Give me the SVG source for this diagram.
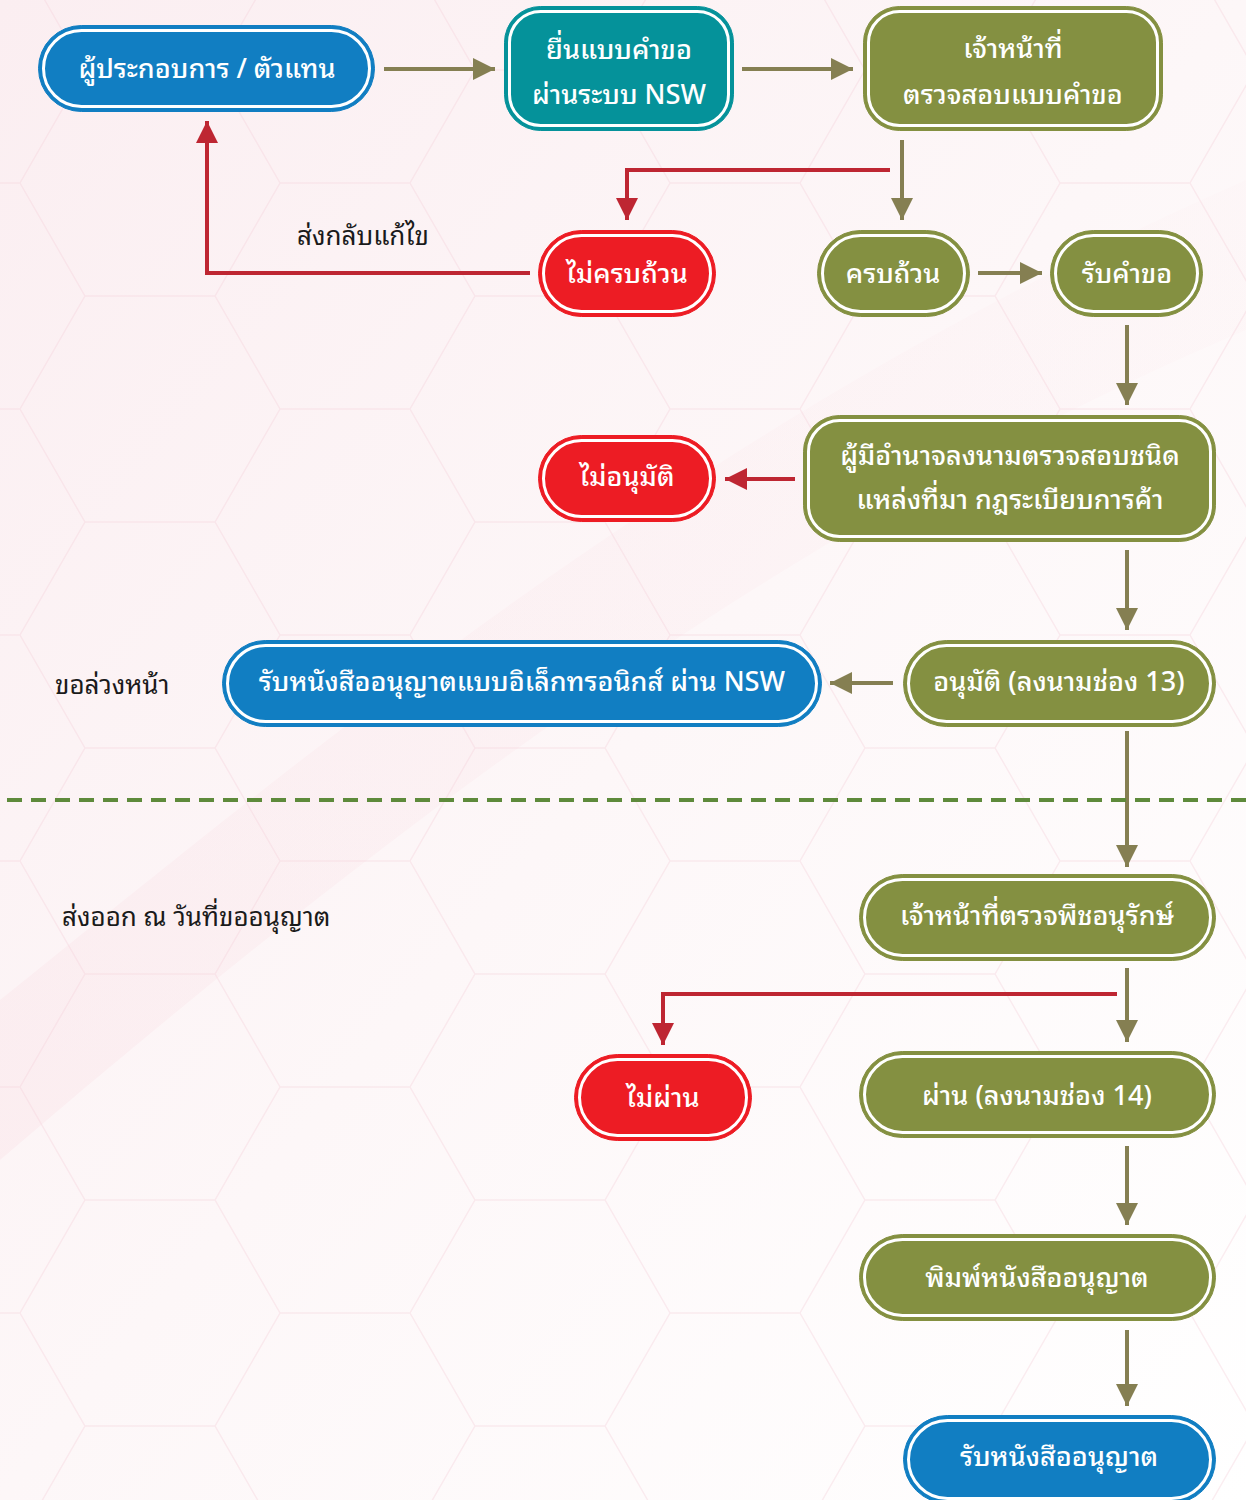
<svg xmlns="http://www.w3.org/2000/svg" width="1246" height="1500" viewBox="0 0 1246 1500">
<defs>
<linearGradient id="bg" x1="0" y1="0" x2="1" y2="1">
<stop offset="0" stop-color="#fbeef1"/>
<stop offset="0.5" stop-color="#fdf7f8"/>
<stop offset="1" stop-color="#ffffff"/>
</linearGradient>
<linearGradient id="swoosh" x1="0" y1="1" x2="1" y2="0">
<stop offset="0" stop-color="#f9dde3" stop-opacity="0.9"/>
<stop offset="1" stop-color="#fbe6ea" stop-opacity="0.3"/>
</linearGradient>
<pattern id="hex" x="20" y="70" width="390" height="226" patternUnits="userSpaceOnUse">
<path d="M0,113 L65,0 L195,0 L260,113 L195,226 L65,226 Z M260,113 L390,113" fill="none" stroke="#f5d3dc" stroke-width="1.5"/>
</pattern>
<marker id="ah-o" viewBox="0 0 10 10" refX="10" refY="5" markerWidth="22" markerHeight="22" markerUnits="userSpaceOnUse" orient="auto">
<path d="M0,0 L10,5 L0,10 Z" fill="#857f52"/>
</marker>
<marker id="ah-r" viewBox="0 0 10 10" refX="10" refY="5" markerWidth="22" markerHeight="22" markerUnits="userSpaceOnUse" orient="auto">
<path d="M0,0 L10,5 L0,10 Z" fill="#be2632"/>
</marker>
<style>
.t{font-family:"Noto Sans Thai Looped","Noto Sans Thai","Noto Sans","DejaVu Sans",sans-serif;font-size:27px;fill:#ffffff;text-anchor:middle;font-weight:500}
.lbl{font-family:"Noto Sans Thai Looped","Noto Sans Thai","Noto Sans","DejaVu Sans",sans-serif;font-size:26px;fill:#1a1a1a}
.ring{fill:none;stroke:#ffffff;stroke-width:3}
.blue{fill:#117ec2;stroke:#117ec2;stroke-width:1}
.teal{fill:#05929a;stroke:#05929a;stroke-width:1}
.olive{fill:#849041;stroke:#849041;stroke-width:1}
.red{fill:#ed1c24;stroke:#ed1c24;stroke-width:1}
.co{fill:none;stroke:#857f52;stroke-width:4}
.cr{fill:none;stroke:#be2632;stroke-width:4}
</style>
</defs>
<rect width="1246" height="1500" fill="url(#bg)"/>
<path d="M0,1000 C300,760 700,420 1246,180 L1246,330 C800,520 420,800 0,1160 Z" fill="url(#swoosh)" opacity="0.35"/>
<rect width="1246" height="1500" fill="url(#hex)" opacity="0.4"/>

<g id="connectors">
<path class="co" d="M384,69 L495,69" marker-end="url(#ah-o)"/>
<path class="co" d="M742,69 L853,69" marker-end="url(#ah-o)"/>
<path class="cr" d="M890,170 L627,170 L627,220" marker-end="url(#ah-r)"/>
<path class="co" d="M902,140 L902,220" marker-end="url(#ah-o)"/>
<path class="cr" d="M530,273 L207,273 L207,121" marker-end="url(#ah-r)"/>
<path class="co" d="M978,273 L1042,273" marker-end="url(#ah-o)"/>
<path class="co" d="M1127,325 L1127,405" marker-end="url(#ah-o)"/>
<path class="cr" d="M795,479 L725,479" marker-end="url(#ah-r)"/>
<path class="co" d="M1127,550 L1127,630" marker-end="url(#ah-o)"/>
<path class="co" d="M893,683 L830,683" marker-end="url(#ah-o)"/>
<path class="co" d="M1127,731 L1127,867" marker-end="url(#ah-o)"/>
<path class="co" d="M1127,968 L1127,1042" marker-end="url(#ah-o)"/>
<path class="cr" d="M1117,994 L663,994 L663,1045" marker-end="url(#ah-r)"/>
<path class="co" d="M1127,1146 L1127,1225" marker-end="url(#ah-o)"/>
<path class="co" d="M1127,1330 L1127,1406" marker-end="url(#ah-o)"/>
</g>

<line id="divider" x1="7" y1="800" x2="1246" y2="800" stroke="#5e8a3b" stroke-width="4" stroke-dasharray="15,9"/>

<text class="lbl" x="297" y="245">ส่งกลับแก้ไข</text>
<text class="lbl" x="55" y="694">ขอล่วงหน้า</text>
<text class="lbl" x="62" y="926">ส่งออก ณ วันที่ขออนุญาต</text>

<g id="n1">
<rect class="blue" x="38.5" y="25.5" width="336" height="86" rx="43"/>
<rect class="ring" x="43.5" y="30.5" width="326" height="76" rx="38"/>
<text class="t" x="207" y="78">ผู้ประกอบการ / ตัวแทน</text>
</g>
<g id="n2">
<rect class="teal" x="504.5" y="6.5" width="229" height="124" rx="36"/>
<rect class="ring" x="509.5" y="11.5" width="219" height="114" rx="31"/>
<text class="t" x="619" y="59">ยื่นแบบคำขอ</text>
<text class="t" x="619" y="104">ผ่านระบบ NSW</text>
</g>
<g id="n3">
<rect class="olive" x="863.5" y="6.5" width="299" height="124" rx="36"/>
<rect class="ring" x="868.5" y="11.5" width="289" height="114" rx="31"/>
<text class="t" x="1013" y="58">เจ้าหน้าที่</text>
<text class="t" x="1013" y="104">ตรวจสอบแบบคำขอ</text>
</g>
<g id="n4">
<rect class="red" x="538.5" y="230.5" width="177" height="86" rx="43"/>
<rect class="ring" x="543.5" y="235.5" width="167" height="76" rx="38"/>
<text class="t" x="627" y="283">ไม่ครบถ้วน</text>
</g>
<g id="n5">
<rect class="olive" x="817.5" y="230.5" width="152" height="86" rx="43"/>
<rect class="ring" x="822.5" y="235.5" width="142" height="76" rx="38"/>
<text class="t" x="893" y="283">ครบถ้วน</text>
</g>
<g id="n6">
<rect class="olive" x="1050.5" y="230.5" width="152" height="86" rx="43"/>
<rect class="ring" x="1055.5" y="235.5" width="142" height="76" rx="38"/>
<text class="t" x="1127" y="283">รับคำขอ</text>
</g>
<g id="n7">
<rect class="olive" x="803.5" y="415.5" width="412" height="126" rx="36"/>
<rect class="ring" x="808.5" y="420.5" width="402" height="116" rx="31"/>
<text class="t" x="1010" y="465">ผู้มีอำนาจลงนามตรวจสอบชนิด</text>
<text class="t" x="1010" y="509">แหล่งที่มา กฎระเบียบการค้า</text>
</g>
<g id="n8">
<rect class="red" x="538.5" y="435.5" width="177" height="86" rx="43"/>
<rect class="ring" x="543.5" y="440.5" width="167" height="76" rx="38"/>
<text class="t" x="627" y="486">ไม่อนุมัติ</text>
</g>
<g id="n9">
<rect class="blue" x="222.5" y="640.5" width="599" height="86" rx="43"/>
<rect class="ring" x="227.5" y="645.5" width="589" height="76" rx="38"/>
<text class="t" x="522" y="691">รับหนังสืออนุญาตแบบอิเล็กทรอนิกส์ ผ่าน NSW</text>
</g>
<g id="n10">
<rect class="olive" x="903.5" y="640.5" width="312" height="86" rx="43"/>
<rect class="ring" x="908.5" y="645.5" width="302" height="76" rx="38"/>
<text class="t" x="1059" y="691">อนุมัติ (ลงนามช่อง 13)</text>
</g>
<g id="n11">
<rect class="olive" x="859.5" y="874.5" width="356" height="86" rx="43"/>
<rect class="ring" x="864.5" y="879.5" width="346" height="76" rx="38"/>
<text class="t" x="1037" y="925">เจ้าหน้าที่ตรวจพืชอนุรักษ์</text>
</g>
<g id="n12">
<rect class="red" x="574.5" y="1054.5" width="177" height="86" rx="43"/>
<rect class="ring" x="579.5" y="1059.5" width="167" height="76" rx="38"/>
<text class="t" x="663" y="1107">ไม่ผ่าน</text>
</g>
<g id="n13">
<rect class="olive" x="859.5" y="1051.5" width="356" height="86" rx="43"/>
<rect class="ring" x="864.5" y="1056.5" width="346" height="76" rx="38"/>
<text class="t" x="1037" y="1105">ผ่าน (ลงนามช่อง 14)</text>
</g>
<g id="n14">
<rect class="olive" x="859.5" y="1234.5" width="356" height="86" rx="43"/>
<rect class="ring" x="864.5" y="1239.5" width="346" height="76" rx="38"/>
<text class="t" x="1037" y="1287">พิมพ์หนังสืออนุญาต</text>
</g>
<g id="n15">
<rect class="blue" x="903.5" y="1415.5" width="312" height="88" rx="44"/>
<rect class="ring" x="908.5" y="1420.5" width="302" height="78" rx="39"/>
<text class="t" x="1059" y="1466">รับหนังสืออนุญาต</text>
</g>
</svg>
